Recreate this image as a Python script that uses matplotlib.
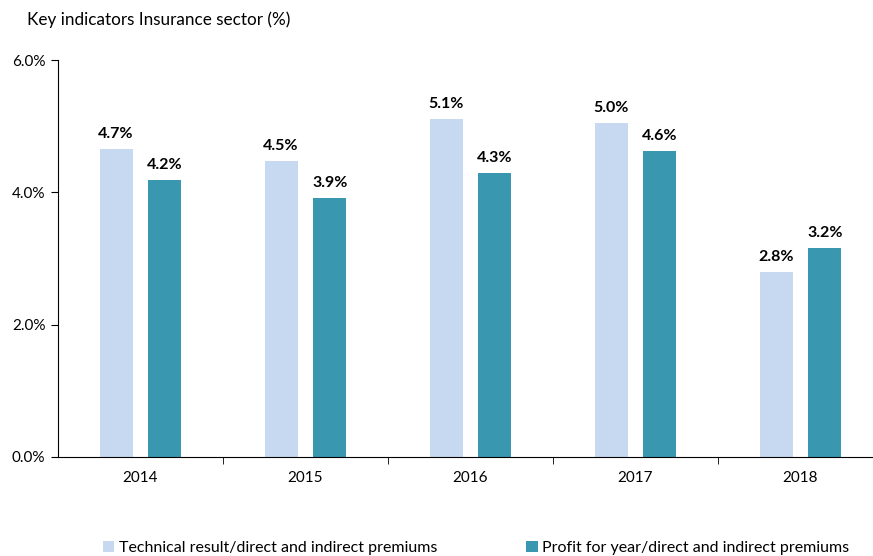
import matplotlib
matplotlib.use("Agg")
import matplotlib.pyplot as plt
import numpy as np

plt.rcParams['font.family'] = ['Lato', 'DejaVu Sans']

years = ['2014', '2015', '2016', '2017', '2018']
technical = [4.65, 4.47, 5.11, 5.05, 2.79]
profit = [4.18, 3.91, 4.29, 4.62, 3.16]
labels_tech = ['4.7%', '4.5%', '5.1%', '5.0%', '2.8%']
labels_profit = ['4.2%', '3.9%', '4.3%', '4.6%', '3.2%']
series_names = ['Technical result/direct and indirect premiums',
                'Profit for year/direct and indirect premiums']

light = '#C6D9F0'
teal = '#3A97B0'

fig = plt.figure(figsize=(8.73, 5.56), dpi=100)
ax = fig.add_axes([58 / 873, 1 - 457 / 556, 1 - 58 / 873, (457 - 60) / 556])

x = np.arange(len(years))
w = 0.2
b1 = ax.bar(x - 0.148, technical, w, color=light, label=series_names[0])
b2 = ax.bar(x + 0.148, profit, w, color=teal, label=series_names[1])

for rect, lab in zip(b1, labels_tech):
    ax.text(rect.get_x() + rect.get_width() / 2, rect.get_height() + 0.12, lab,
            ha='center', va='bottom', fontsize=11.5, fontweight='bold')
for rect, lab in zip(b2, labels_profit):
    ax.text(rect.get_x() + rect.get_width() / 2, rect.get_height() + 0.12, lab,
            ha='center', va='bottom', fontsize=11.5, fontweight='bold')

ax.set_ylim(0, 6)
ax.set_xlim(-0.5, 4.5 - 10 / 165)
ax.set_yticks([0, 2, 4, 6])
ax.set_yticklabels(['0.0%', '2.0%', '4.0%', '6.0%'], fontsize=11)
ax.set_xticks(x)
ax.set_xticklabels(years, fontsize=11)
ax.set_xticks(np.arange(0.5, 4.5, 1), minor=True)
ax.tick_params(axis='x', which='major', length=0, pad=10)
ax.tick_params(axis='x', which='minor', length=5, direction='out')
ax.tick_params(axis='y', length=5, direction='out', pad=4)

for s in ['top', 'right']:
    ax.spines[s].set_visible(False)
ax.spines['left'].set_color('#000000')
ax.spines['bottom'].set_color('#000000')

fig.text(27 / 873, 1 - 20 / 556, 'Key indicators Insurance sector (%)',
         fontsize=12.3, va='center', ha='left')

fig.legend(handles=[b1, b2], loc='center', bbox_to_anchor=(476 / 873, 1 - 548 / 556),
           ncol=2, frameon=False, fontsize=11.5, handlelength=0.7, handleheight=0.7,
           handletextpad=0.3, columnspacing=5.6)

fig.savefig('out.png', dpi=100)
